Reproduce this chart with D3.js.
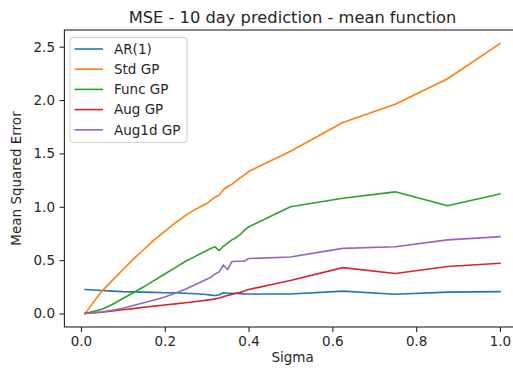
<!DOCTYPE html>
<html>
<head>
<meta charset="utf-8">
<script src="https://cdn.jsdelivr.net/npm/d3@7/dist/d3.min.js"></script>
<style>
  html, body { margin: 0; padding: 0; background: #fff; overflow: hidden; }
  svg { display: block; font-family: "DejaVu Sans", sans-serif; }
</style>
</head>
<body>
<svg id="chart" width="513" height="372"></svg>
<script>
// Noise level (sigma) at which each model was evaluated
const sigma = [0.01, 0.05, 0.075, 0.1, 0.125, 0.15, 0.175, 0.2, 0.225, 0.25, 0.275, 0.3,
               0.31, 0.32, 0.33, 0.34, 0.35, 0.36, 0.37, 0.38, 0.39, 0.4,
               0.5, 0.625, 0.75, 0.875, 1.0];

// Mean squared error of the 10 day prediction for each model
const ar1     = [0.225, 0.215, 0.21, 0.205, 0.203, 0.2, 0.198, 0.195, 0.193, 0.19, 0.185, 0.178,
                 0.172, 0.168, 0.175, 0.195, 0.19, 0.19, 0.19, 0.186, 0.184, 0.183,
                 0.183, 0.21, 0.18, 0.2, 0.205];
const stdGP   = [0, 0.21, 0.31, 0.41, 0.51, 0.6, 0.69, 0.77, 0.85, 0.92, 0.98, 1.03,
                 1.06, 1.09, 1.11, 1.16, 1.19, 1.21, 1.24, 1.27, 1.30, 1.33,
                 1.52, 1.79, 1.96, 2.20, 2.53];
const funcGP  = [0, 0.04, 0.085, 0.14, 0.195, 0.25, 0.31, 0.37, 0.43, 0.49, 0.54, 0.59,
                 0.61, 0.625, 0.59, 0.63, 0.66, 0.69, 0.71, 0.74, 0.78, 0.81,
                 1.0, 1.08, 1.14, 1.01, 1.12];
const augGP   = [0, 0.012, 0.024, 0.035, 0.046, 0.058, 0.069, 0.08, 0.09, 0.10, 0.112, 0.125,
                 0.13, 0.137, 0.145, 0.158, 0.168, 0.178, 0.188, 0.198, 0.21, 0.225,
                 0.31, 0.43, 0.375, 0.44, 0.47];
const aug1dGP = [0, 0.015, 0.03, 0.05, 0.075, 0.1, 0.127, 0.155, 0.19, 0.23, 0.275, 0.32,
                 0.34, 0.37, 0.39, 0.455, 0.41, 0.485, 0.49, 0.49, 0.49, 0.515,
                 0.53, 0.61, 0.625, 0.69, 0.72];

const seriesNames = ["AR(1)", "Std GP", "Func GP", "Aug GP", "Aug1d GP"];
const seriesValues = [ar1, stdGP, funcGP, augGP, aug1dGP];
const colors = ["#1f77b4", "#ff7f0e", "#2ca02c", "#d62728", "#9467bd"];

const xTicks = [0.0, 0.2, 0.4, 0.6, 0.8, 1.0];
const yTicks = [0.0, 0.5, 1.0, 1.5, 2.0, 2.5];

const titleText = "MSE - 10 day prediction - mean function";
const xLabel = "Sigma";
const yLabel = "Mean Squared Error";

// Plot area
const plotLeft = 64.4, plotRight = 520.7, plotTop = 30, plotBottom = 327;

const x = d3.scaleLinear().domain([-0.0395, 1.0495]).range([plotLeft, plotRight]);
const y = d3.scaleLinear().domain([-0.1265, 2.6565]).range([plotBottom, plotTop]);

const svg = d3.select("#chart");
const textColor = "#262626";
const fs = 13.5;

svg.append("defs").append("clipPath").attr("id", "plotClip")
  .append("rect").attr("x", plotLeft).attr("y", plotTop)
  .attr("width", plotRight - plotLeft).attr("height", plotBottom - plotTop);

// Lines
const line = d3.line().x((d, i) => x(sigma[i])).y(d => y(d));
const plot = svg.append("g").attr("clip-path", "url(#plotClip)");
seriesValues.forEach((vals, k) => {
  plot.append("path")
    .datum(vals)
    .attr("d", line)
    .attr("fill", "none")
    .attr("stroke", colors[k])
    .attr("stroke-width", 1.6)
    .attr("stroke-linejoin", "round")
    .attr("stroke-linecap", "square");
});

// Axes
const xAxis = d3.axisBottom(x).tickValues(xTicks).tickFormat(d3.format(".1f"))
  .tickSizeInner(4.9).tickSizeOuter(0).tickPadding(4.5);
const yAxis = d3.axisLeft(y).tickValues(yTicks).tickFormat(d3.format(".1f"))
  .tickSizeInner(4.9).tickSizeOuter(0).tickPadding(4.5);

const gx = svg.append("g").attr("transform", `translate(0,${plotBottom})`).call(xAxis);
const gy = svg.append("g").attr("transform", `translate(${plotLeft},0)`).call(yAxis);
[gx, gy].forEach(g => {
  g.select(".domain").remove();
  g.selectAll(".tick line").attr("stroke", textColor).attr("stroke-width", 1.1);
  g.selectAll(".tick text").attr("fill", textColor)
    .style("font-size", fs + "px").style("font-family", "DejaVu Sans, sans-serif");
});

// Spines
svg.append("rect")
  .attr("x", plotLeft).attr("y", plotTop)
  .attr("width", plotRight - plotLeft).attr("height", plotBottom - plotTop)
  .attr("fill", "none").attr("stroke", textColor).attr("stroke-width", 1.1);

// Title and axis labels
svg.append("text").attr("x", (plotLeft + plotRight) / 2).attr("y", 23)
  .attr("text-anchor", "middle").attr("fill", textColor)
  .style("font-size", "16.3px").text(titleText);
svg.append("text").attr("x", (plotLeft + plotRight) / 2).attr("y", 362)
  .attr("text-anchor", "middle").attr("fill", textColor)
  .style("font-size", fs + "px").text(xLabel);
svg.append("text")
  .attr("transform", `translate(21,${(plotTop + plotBottom) / 2}) rotate(-90)`)
  .attr("text-anchor", "middle").attr("fill", textColor)
  .style("font-size", fs + "px").text(yLabel);

// Legend
const lg = svg.append("g");
lg.append("rect")
  .attr("x", 70).attr("y", 37.5).attr("width", 117).attr("height", 105)
  .attr("rx", 3).attr("fill", "#fff").attr("fill-opacity", 0.8)
  .attr("stroke", "#d0d0d0").attr("stroke-width", 1);
seriesNames.forEach((name, k) => {
  const yy = 49 + k * 20.2;
  lg.append("line").attr("x1", 74.5).attr("x2", 103).attr("y1", yy).attr("y2", yy)
    .attr("stroke", colors[k]).attr("stroke-width", 1.6);
  lg.append("text").attr("x", 114).attr("y", yy).attr("dy", "0.36em")
    .attr("fill", textColor).style("font-size", fs + "px").text(name);
});
</script>
</body>
</html>
